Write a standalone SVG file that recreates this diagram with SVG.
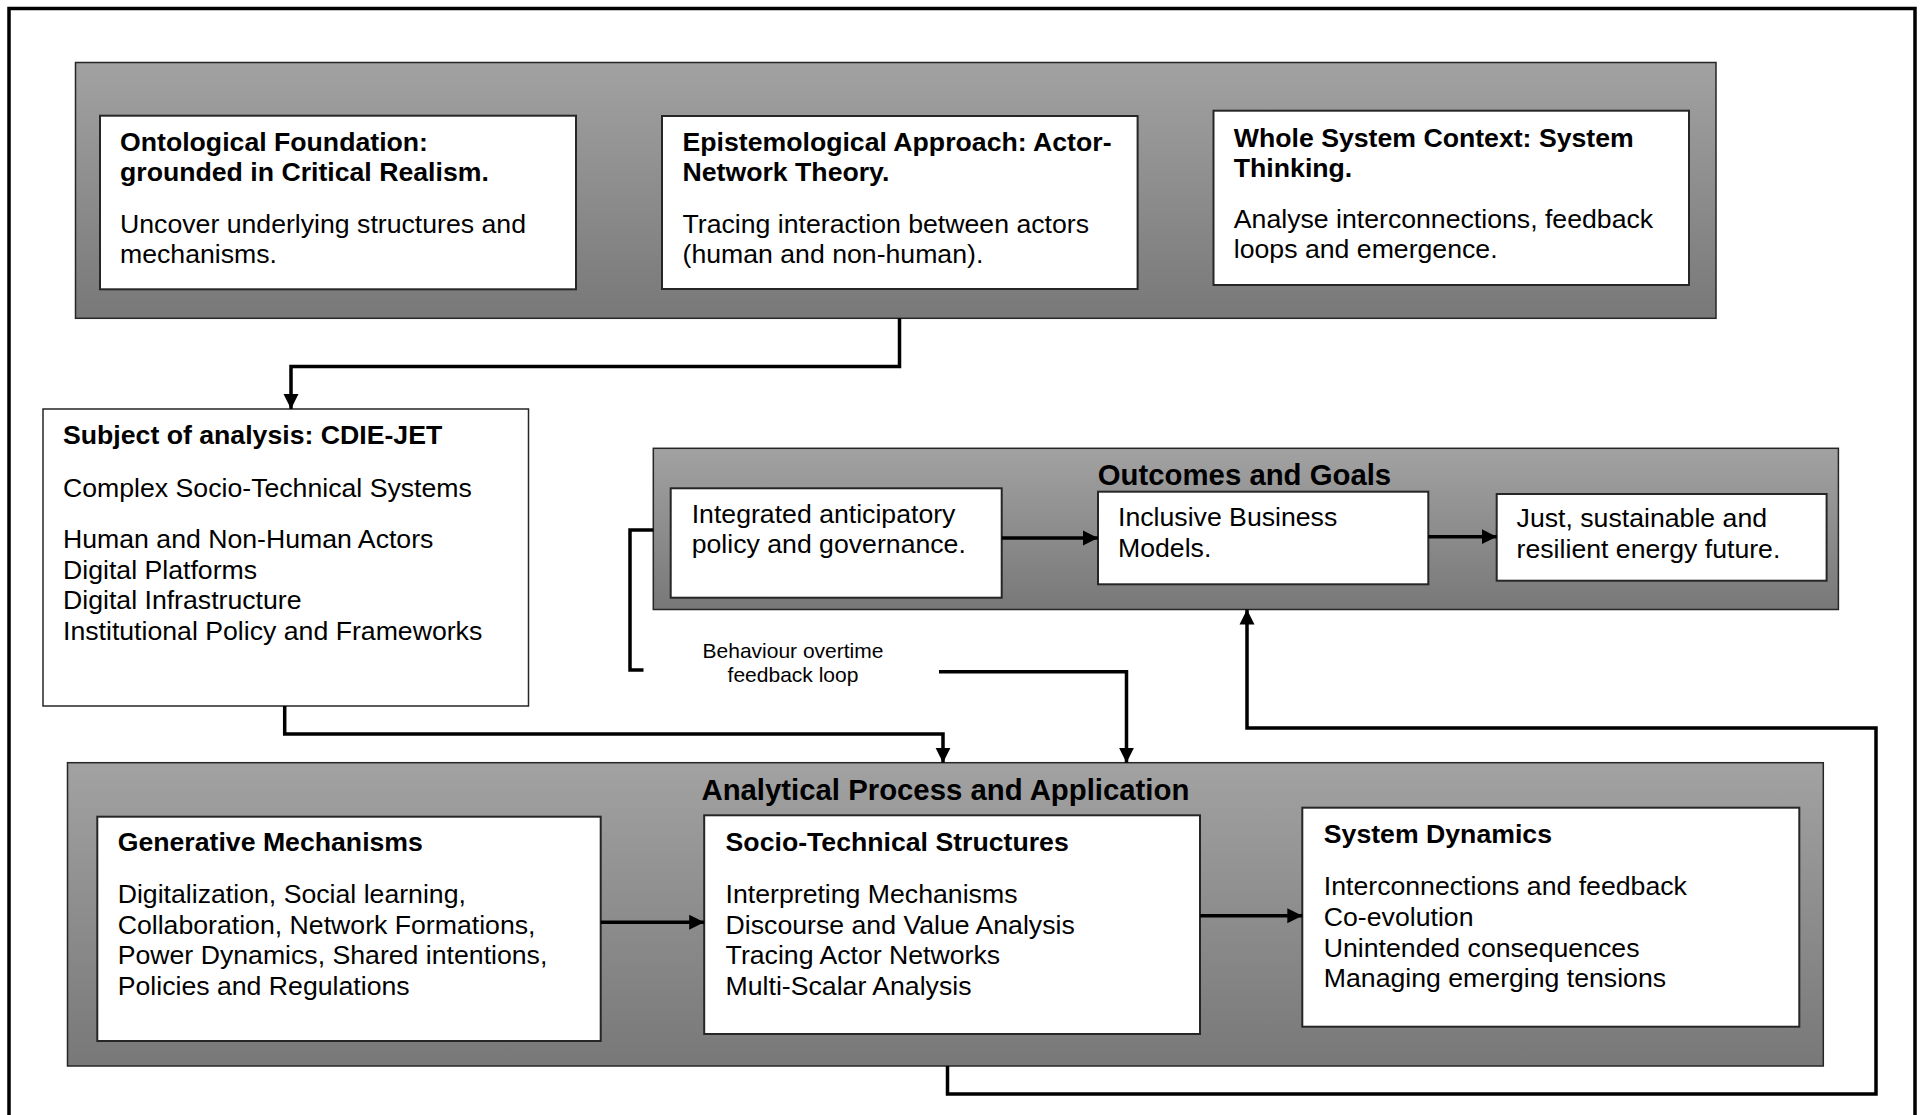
<svg xmlns="http://www.w3.org/2000/svg" width="1921" height="1115" viewBox="0 0 1921 1115">
<defs>
<linearGradient id="panelGrad" x1="0" y1="0" x2="0" y2="1">
<stop offset="0" stop-color="#a2a2a2"/>
<stop offset="1" stop-color="#787878"/>
</linearGradient>
<marker id="arrow" markerUnits="userSpaceOnUse" markerWidth="16" markerHeight="16" refX="15" refY="8" orient="auto">
<path d="M0,0.5 L15,8 L0,15.5 z" fill="#000"/>
</marker>
<style>
.panel{fill:url(#panelGrad);stroke:#262626;stroke-width:1.5}
.box{fill:#fff;stroke:#262626;stroke-width:2}
.sbox{fill:#fff;stroke:#262626;stroke-width:1.5}
text{font-family:"Liberation Sans",Arial,Helvetica,sans-serif;fill:#000}
.t{font-size:26.67px;font-weight:bold}
.b{font-size:26.67px}
.pt{font-size:29.33px;font-weight:bold;text-anchor:middle}
.lbl{font-size:21px;text-anchor:middle}
.con{fill:none;stroke:#000;stroke-width:3.5}
</style>
</defs>
<rect x="0" y="0" width="1921" height="1115" fill="#fff"/>
<rect id="frame" x="9" y="8.5" width="1906" height="1120" fill="none" stroke="#000" stroke-width="3.5"/>

<g id="foundations">
<rect class="panel" x="75.5" y="62.5" width="1640.5" height="255.8"/>
<g id="ontological">
<rect class="box" x="100" y="115.7" width="476" height="173.6"/>
<text class="t" x="120" y="151">Ontological Foundation:</text>
<text class="t" x="120" y="181">grounded in Critical Realism.</text>
<text class="b" x="120" y="232.7">Uncover underlying structures and</text>
<text class="b" x="120" y="262.7">mechanisms.</text>
</g>
<g id="epistemological">
<rect class="box" x="662" y="116" width="475.6" height="173"/>
<text class="t" x="682.5" y="151">Epistemological Approach: Actor-</text>
<text class="t" x="682.5" y="181">Network Theory.</text>
<text class="b" x="682.5" y="232.7">Tracing interaction between actors</text>
<text class="b" x="682.5" y="262.7">(human and non-human).</text>
</g>
<g id="wholesystem">
<rect class="box" x="1213.5" y="110.7" width="475.5" height="174.3"/>
<text class="t" x="1233.8" y="146.5">Whole System Context: System</text>
<text class="t" x="1233.8" y="176.5">Thinking.</text>
<text class="b" x="1233.8" y="228">Analyse interconnections, feedback</text>
<text class="b" x="1233.8" y="258">loops and emergence.</text>
</g>
</g>

<g id="subject">
<rect class="sbox" x="43" y="409" width="485.5" height="297"/>
<text class="t" x="63" y="443.7">Subject of analysis: CDIE-JET</text>
<text class="b" x="63" y="496.5">Complex Socio-Technical Systems</text>
<text class="b" x="63" y="548">Human and Non-Human Actors</text>
<text class="b" x="63" y="578.5">Digital Platforms</text>
<text class="b" x="63" y="609">Digital Infrastructure</text>
<text class="b" x="63" y="639.5">Institutional Policy and Frameworks</text>
</g>

<g id="outcomes">
<rect class="panel" x="653.3" y="448.3" width="1185.1" height="161.2"/>
<text class="pt" x="1244.5" y="485">Outcomes and Goals</text>
<g id="integrated">
<rect class="box" x="670.7" y="488.3" width="331" height="109.4"/>
<text class="b" x="691.7" y="523">Integrated anticipatory</text>
<text class="b" x="691.7" y="552.5">policy and governance.</text>
</g>
<g id="inclusive">
<rect class="box" x="1098" y="491.7" width="330.3" height="92.6"/>
<text class="b" x="1118" y="526">Inclusive Business</text>
<text class="b" x="1118" y="556.5">Models.</text>
</g>
<g id="just">
<rect class="box" x="1496.7" y="494" width="329.9" height="86.7"/>
<text class="b" x="1516.6" y="527">Just, sustainable and</text>
<text class="b" x="1516.6" y="558">resilient energy future.</text>
</g>
</g>

<g id="analytical">
<rect class="panel" x="67.5" y="762.7" width="1755.8" height="303.3"/>
<text class="pt" x="945.4" y="800">Analytical Process and Application</text>
<g id="generative">
<rect class="box" x="97.3" y="816.7" width="503.4" height="224.3"/>
<text class="t" x="117.7" y="851">Generative Mechanisms</text>
<text class="b" x="117.7" y="903.3">Digitalization, Social learning,</text>
<text class="b" x="117.7" y="934">Collaboration, Network Formations,</text>
<text class="b" x="117.7" y="964.3">Power Dynamics, Shared intentions,</text>
<text class="b" x="117.7" y="994.5">Policies and Regulations</text>
</g>
<g id="sociotechnical">
<rect class="box" x="704.2" y="815.3" width="495.8" height="218.7"/>
<text class="t" x="725.6" y="850.5">Socio-Technical Structures</text>
<text class="b" x="725.6" y="903">Interpreting Mechanisms</text>
<text class="b" x="725.6" y="933.5">Discourse and Value Analysis</text>
<text class="b" x="725.6" y="964">Tracing Actor Networks</text>
<text class="b" x="725.6" y="994.5">Multi-Scalar Analysis</text>
</g>
<g id="systemdynamics">
<rect class="box" x="1302.3" y="807.7" width="497" height="219"/>
<text class="t" x="1323.8" y="843">System Dynamics</text>
<text class="b" x="1323.8" y="895">Interconnections and feedback</text>
<text class="b" x="1323.8" y="925.5">Co-evolution</text>
<text class="b" x="1323.8" y="956.5">Unintended consequences</text>
<text class="b" x="1323.8" y="987">Managing emerging tensions</text>
</g>
</g>

<g id="connectors">
<path class="con" d="M899.5 318.3 V366.5 H291 V409" marker-end="url(#arrow)"/>
<path class="con" d="M1001.7 538 H1098" marker-end="url(#arrow)"/>
<path class="con" d="M1428.3 536.7 H1496.7" marker-end="url(#arrow)"/>
<path class="con" d="M653.3 530 H630 V670 H643.5"/>
<path class="con" d="M939 671.7 H1126.5 V762.7" marker-end="url(#arrow)"/>
<path class="con" d="M284.7 706 V734 H943 V762.7" marker-end="url(#arrow)"/>
<path class="con" d="M600.7 922.3 H704.2" marker-end="url(#arrow)"/>
<path class="con" d="M1200 915.7 H1302.3" marker-end="url(#arrow)"/>
<path class="con" d="M947.5 1066 V1094 H1876 V728 H1247 V609.5" marker-end="url(#arrow)"/>
<text class="lbl" x="793" y="658.3">Behaviour overtime</text>
<text class="lbl" x="793" y="681.7">feedback loop</text>
</g>
</svg>
